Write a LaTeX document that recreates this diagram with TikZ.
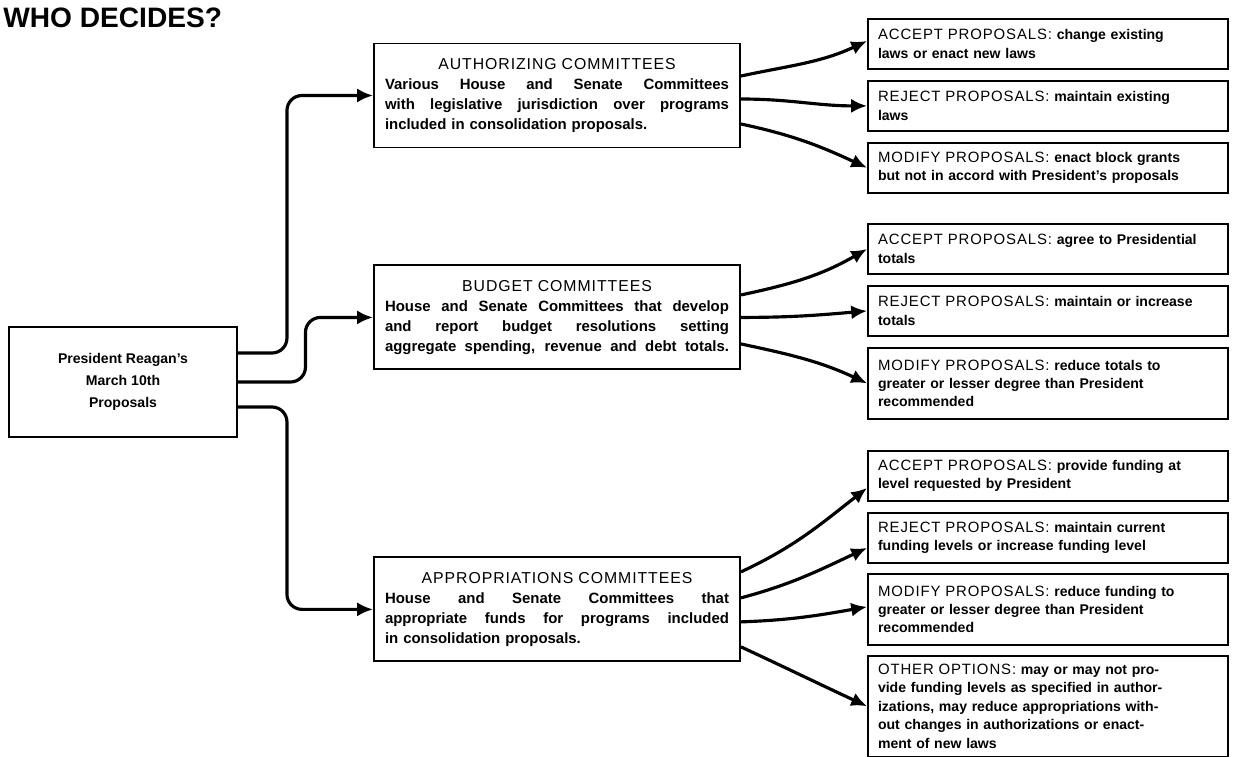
\documentclass[tikz,border=0pt]{standalone}
\usepackage{fontspec}
\setmainfont{Liberation Sans}
\newfontfamily\capsfont[LetterSpace=6]{Liberation Sans}
\usetikzlibrary{arrows.meta,positioning}

\newlength\midw
\setlength\midw{6.88cm}
\newcommand{\fillline}[1]{\makebox[\midw][s]{\spaceskip=0.28em plus 1fil\xspaceskip=0.28em plus 1fil\relax #1}}
\newcommand{\cname}[1]{\makebox[\midw]{\capsfont\mdseries\fontsize{9}{11.4}\selectfont #1}}
\newcommand{\optname}[1]{{\capsfont\mdseries\fontsize{8.5}{10.5}\selectfont #1}}

\begin{document}
\begin{tikzpicture}[
  cbox/.style={rectangle, draw, line width=1.1pt, text width=\midw, inner xsep=0.22cm, minimum height=2.08cm, align=left, font=\bfseries\fontsize{8.5}{11.4}\selectfont},
  pbox/.style={rectangle, draw, line width=1.1pt, minimum width=4.56cm, minimum height=2.2cm, align=center, font=\bfseries\fontsize{8}{12.5}\selectfont},
  obox/.style={rectangle, draw, line width=1.1pt, text width=6.8cm, inner xsep=0.2cm, minimum height=1cm, align=left, font=\bfseries\fontsize{8}{10.5}\selectfont},
  arr/.style={-{Latex[length=9pt,width=8pt]}, line width=1.8pt}
]
  \useasboundingbox (0,0) rectangle (24.68,-15.12);

  \node[anchor=base west, inner sep=0pt, font=\bfseries\fontsize{16}{19}\selectfont] (title) at (0.06,-0.54) {WHO DECIDES?};

  \node[pbox] (pres) at (2.46,-7.64) {President Reagan's\\March 10th\\Proposals};

  \node[cbox] (auth) at (11.14,-1.91) {\cname{AUTHORIZING COMMITTEES}\\
    \fillline{Various House and Senate Committees}\\
    \fillline{with legislative jurisdiction over programs}\\
    included in consolidation proposals.};
  \node[cbox, below=2.32cm of auth] (budget) {\cname{BUDGET COMMITTEES}\\
    \fillline{House and Senate Committees that develop}\\
    \fillline{and report budget resolutions setting}\\
    \fillline{aggregate spending, revenue and debt totals.}};
  \node[cbox, below=3.72cm of budget] (appr) {\cname{APPROPRIATIONS COMMITTEES}\\
    \fillline{House and Senate Committees that}\\
    \fillline{appropriate funds for programs included}\\
    in consolidation proposals.};

  \draw[arr, rounded corners=0.3cm] ([yshift=0.58cm]pres.east) -- ++(0.98,0) |- (auth.west);
  \draw[arr, rounded corners=0.3cm] (pres.east) -- ++(1.35,0) |- (budget.west);
  \draw[arr, rounded corners=0.3cm] ([yshift=-0.5cm]pres.east) -- ++(0.98,0) |- (appr.west);

  % authorizing options
  \node[obox, anchor=north] (acc1) at (20.96,-0.36) {\optname{ACCEPT PROPOSALS:} change existing\\laws or enact new laws};
  \node[obox, below=0.2cm of acc1] (rej1) {\optname{REJECT PROPOSALS:} maintain existing\\laws};
  \node[obox, below=0.2cm of rej1] (mod1) {\optname{MODIFY PROPOSALS:} enact block grants\\but not in accord with President's proposals};
  \draw[arr] ([yshift=0.39cm]auth.east) to[out=12, in=205] ([yshift=0.06cm]acc1.west);
  \draw[arr] ([yshift=-0.07cm]auth.east) to[out=0, in=180] (rej1.west);
  \draw[arr] ([yshift=-0.57cm]auth.east) to[out=-12, in=155] (mod1.west);

  % budget options
  \node[obox, anchor=north] (acc2) at (20.96,-4.46) {\optname{ACCEPT PROPOSALS:} agree to Presidential\\totals};
  \node[obox, below=0.2cm of acc2] (rej2) {\optname{REJECT PROPOSALS:} maintain or increase\\totals};
  \node[obox, below=0.2cm of rej2, minimum height=1.42cm] (mod2) {\optname{MODIFY PROPOSALS:} reduce totals to\\greater or lesser degree than President\\recommended};
  \draw[arr] ([yshift=0.45cm]budget.east) to[out=12, in=210] (acc2.west);
  \draw[arr] (budget.east) to[out=0, in=185] (rej2.west);
  \draw[arr] ([yshift=-0.53cm]budget.east) to[out=-12, in=155] (mod2.west);

  % appropriations options
  \node[obox, anchor=north] (acc3) at (20.96,-9.0) {\optname{ACCEPT PROPOSALS:} provide funding at\\level requested by President};
  \node[obox, below=0.2cm of acc3] (rej3) {\optname{REJECT PROPOSALS:} maintain current\\funding levels or increase funding level};
  \node[obox, below=0.18cm of rej3, minimum height=1.42cm] (mod3) {\optname{MODIFY PROPOSALS:} reduce funding to\\greater or lesser degree than President\\recommended};
  \node[obox, below=0.18cm of mod3, minimum height=2.02cm] (oth3) {\optname{OTHER OPTIONS:} may or may not pro-\\vide funding levels as specified in author-\\izations, may reduce appropriations with-\\out changes in authorizations or enact-\\ment of new laws};
  \draw[arr] ([yshift=0.75cm]appr.east) to[out=25, in=218] ([yshift=-0.24cm]acc3.west);
  \draw[arr] ([yshift=0.23cm]appr.east) to[out=15, in=205] ([yshift=-0.2cm]rej3.west);
  \draw[arr] ([yshift=-0.25cm]appr.east) to[out=2, in=190] ([yshift=0.05cm]mod3.west);
  \draw[arr] ([yshift=-0.75cm]appr.east) to[out=-25, in=155] (oth3.west);
\end{tikzpicture}
\end{document}
